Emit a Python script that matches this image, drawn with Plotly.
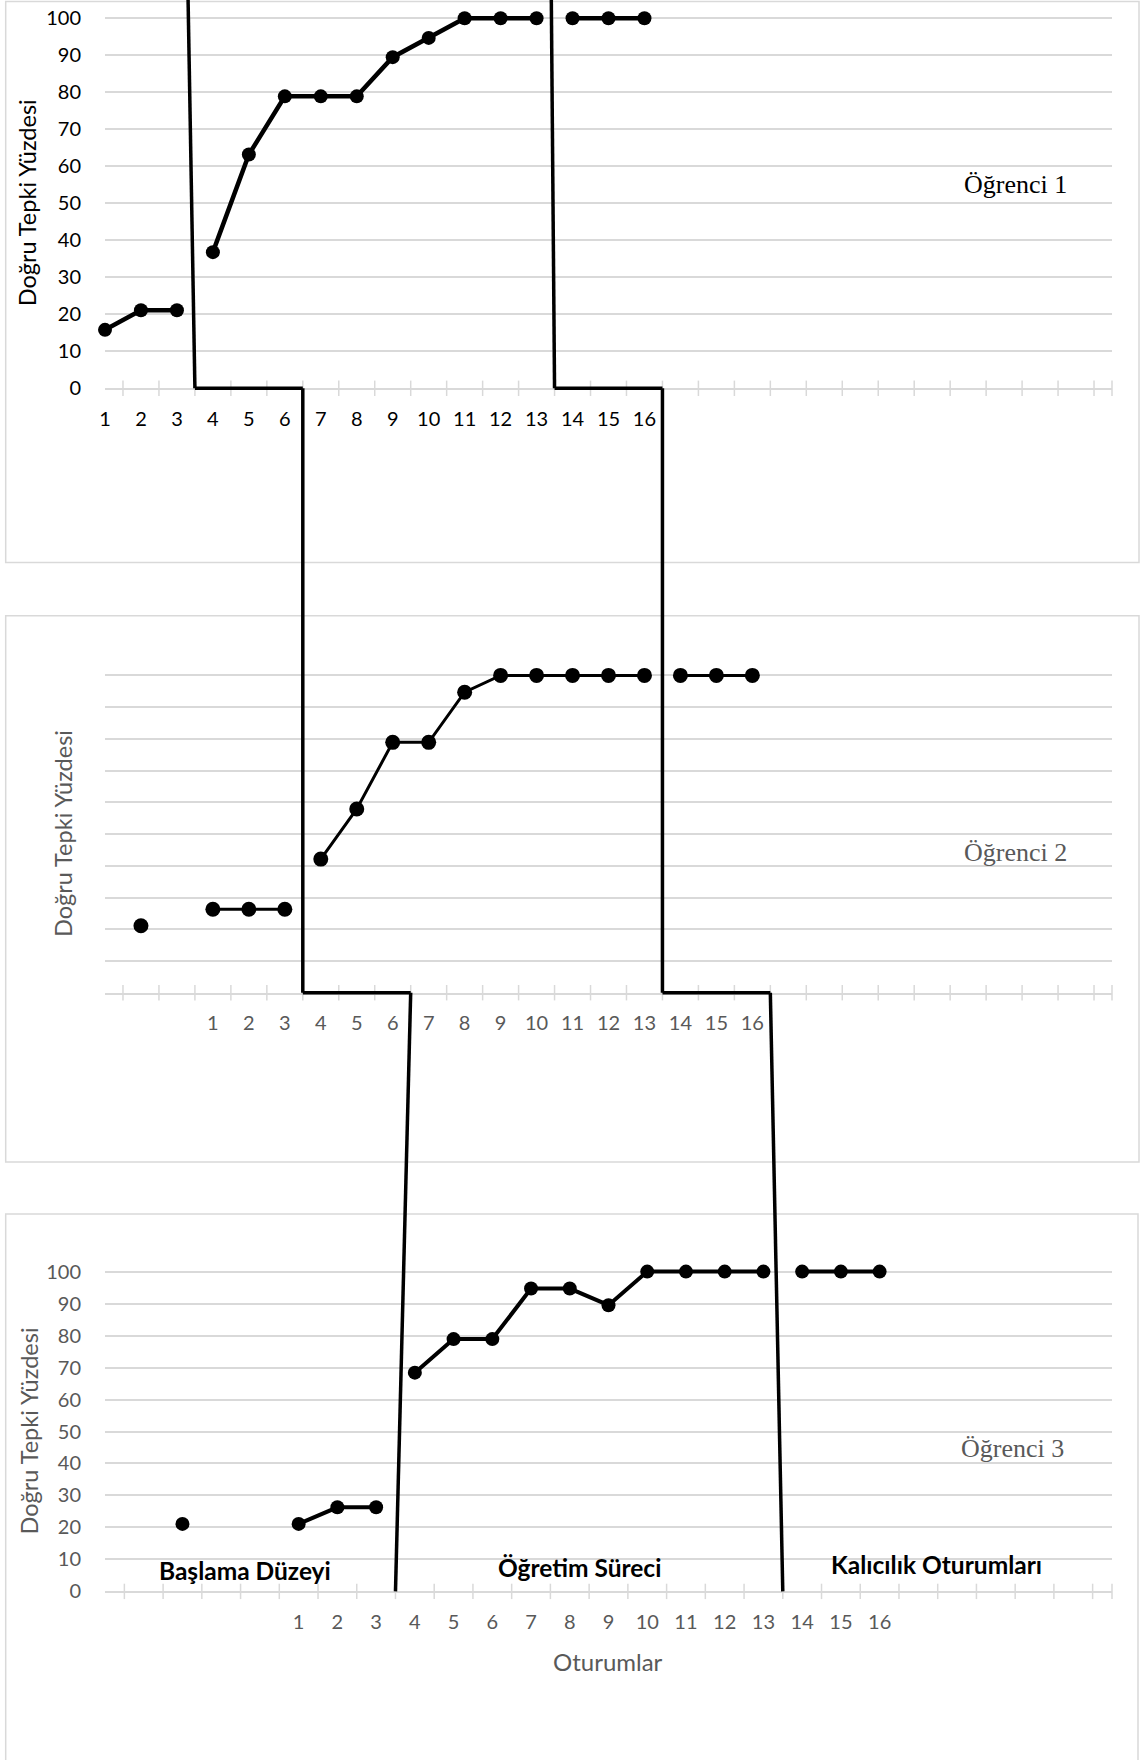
import numpy as np
import plotly.graph_objects as go

# ---------------- data ----------------
x_tick_labels = [str(i) for i in range(1, 17)]
y_ticks = list(range(0, 101, 10))

baseline_sessions = [1, 2, 3]
intervention_sessions = list(range(4, 14))
maintenance_sessions = [14, 15, 16]

# Öğrenci 1
s1_pre_x = []
s1_pre = []
s1_baseline = [15.8, 21.1, 21.1]
s1_intervention = [36.8, 63.2, 78.9, 78.9, 78.9, 89.5, 94.7, 100, 100, 100]
s1_maintenance = [100, 100, 100]

# Öğrenci 2
s2_pre_x = [-1]
s2_pre = [21.1]
s2_baseline = [26.3, 26.3, 26.3]
s2_intervention = [42.1, 57.9, 78.9, 78.9, 94.7, 100, 100, 100, 100, 100]
s2_maintenance = [100, 100, 100]

# Öğrenci 3
s3_pre_x = [-2]
s3_pre = [21.1]
s3_baseline = [21.1, 26.3, 26.3]
s3_intervention = [68.4, 78.9, 78.9, 94.7, 94.7, 89.5, 100, 100, 100, 100]
s3_maintenance = [100, 100, 100]

student_labels = ["Öğrenci 1", "Öğrenci 2", "Öğrenci 3"]
phase_labels = ["Başlama Düzeyi", "Öğretim Süreci", "Kalıcılık Oturumları"]
y_title = "Doğru Tepki Yüzdesi"
x_title = "Oturumlar"

phase_changes = [3.5, 13.5]          # phase-change lines (between sessions)
phase_top_x_panel1 = [3.31, 13.41]   # hand-drawn lines lean slightly at the top
stair_step = 3                       # staircase step (sessions) between panels

# ---------------- styling / layout ----------------
W, H = 1140, 1760
FONT = "Lato"
GRID = "#d9d9d9"
GRAY = "#595959"


def pxx(p):
    return p / W


def pxy(p):
    return 1 - p / H


panels = [
    dict(xr=[1, 29], left=105, right=1112, y0px=388.3, y100px=18.3, top_px=0,
         pre_x=s1_pre_x, pre=s1_pre, base=s1_baseline, inter=s1_intervention,
         maint=s1_maintenance, color="black", show_y=True, lw=4.5, ms=14,
         box=(5.7, 1.5, 1139, 562.5), label_xy=(1015, 185), ytitle_x=27),
    dict(xr=[-2, 26], left=105, right=1112, y0px=992.7, y100px=675.4, top_px=660,
         pre_x=s2_pre_x, pre=s2_pre, base=s2_baseline, inter=s2_intervention,
         maint=s2_maintenance, color=GRAY, show_y=False, lw=3, ms=15,
         box=(5.7, 615.7, 1139, 1162), label_xy=(1015, 853), ytitle_x=63),
    dict(xr=[-4, 22], left=105, right=1112, y0px=1591.4, y100px=1271.6, top_px=1256,
         pre_x=s3_pre_x, pre=s3_pre, base=s3_baseline, inter=s3_intervention,
         maint=s3_maintenance, color=GRAY, show_y=True, lw=4, ms=14,
         box=(5.7, 1214, 1138, 1800), label_xy=(1012, 1448), ytitle_x=28),
]

fig = go.Figure()
layout = dict(
    width=W, height=H, margin=dict(l=0, r=0, t=0, b=0),
    paper_bgcolor="white", plot_bgcolor="white", template="none",
    showlegend=False, hovermode=False,
)
shapes = []
annotations = []

for i, p in enumerate(panels):
    sfx = "" if i == 0 else str(i + 1)
    xa, ya = "x" + sfx, "y" + sfx
    units_per_px = 100.0 / (p["y0px"] - p["y100px"])
    y_top = (p["y0px"] - p["top_px"]) * units_per_px
    p["xdom"] = [pxx(p["left"]), pxx(p["right"])]
    p["ydom"] = [pxy(p["y0px"]), pxy(p["top_px"])]

    layout["xaxis" + sfx] = dict(
        domain=p["xdom"], range=p["xr"], anchor=ya, automargin=False,
        tickmode="array", tickvals=list(range(1, 17)), ticktext=x_tick_labels,
        ticks="", showgrid=False, zeroline=False, showline=True,
        linecolor=GRID, linewidth=1.5,
        tickfont=dict(family=FONT, size=20, color=p["color"]),
        ticklabelstandoff=12,
    )
    layout["yaxis" + sfx] = dict(
        domain=p["ydom"], range=[0, y_top], anchor=xa, automargin=False,
        tickmode="array", tickvals=y_ticks, ticks="",
        showgrid=True, gridcolor=GRID, gridwidth=1.5, zeroline=False,
        showline=False, showticklabels=p["show_y"],
        tickfont=dict(family=FONT, size=20, color=p["color"]),
        ticklabelstandoff=23,
    )

    # category tick marks (between sessions, crossing the axis)
    tpos = list(np.arange(p["xr"][0] + 0.5, p["xr"][1], 1.0)) + [p["xr"][1]]
    fig.add_trace(go.Scatter(
        x=tpos, y=[0] * len(tpos), mode="markers", xaxis=xa, yaxis=ya,
        marker=dict(symbol="line-ns", size=11, line=dict(width=1.5, color=GRID)),
        cliponaxis=False, hoverinfo="skip"))

    # data segments
    segs = [(p["pre_x"], p["pre"]), (baseline_sessions, p["base"]),
            (intervention_sessions, p["inter"]), (maintenance_sessions, p["maint"])]
    for xs, ys in segs:
        if not xs:
            continue
        fig.add_trace(go.Scatter(
            x=xs, y=ys, mode="lines+markers", xaxis=xa, yaxis=ya,
            line=dict(color="black", width=p["lw"]),
            marker=dict(size=p["ms"], color="black"),
            cliponaxis=False, hoverinfo="skip"))

    # chart-area border
    bx0, by0, bx1, by1 = p["box"]
    shapes.append(dict(type="rect", xref="paper", yref="paper",
                       x0=pxx(bx0), x1=pxx(bx1), y0=pxy(by1), y1=pxy(by0),
                       line=dict(color=GRID, width=1.5), layer="below"))

    # student label
    lx, ly = p["label_xy"]
    annotations.append(dict(
        text=student_labels[i], xref="paper", yref="paper", x=pxx(lx), y=pxy(ly),
        xanchor="center", yanchor="middle", showarrow=False,
        font=dict(family="Liberation Serif", size=26, color=p["color"])))

    # y-axis title
    annotations.append(dict(
        text=y_title, xref="paper", yref="paper", x=pxx(p["ytitle_x"]),
        y=pxy((p["y0px"] + p["y100px"]) / 2), textangle=-90,
        xanchor="center", yanchor="middle", showarrow=False,
        font=dict(family=FONT, size=23.5, color=p["color"])))

# x-axis title (bottom panel)
annotations.append(dict(
    text=x_title, xref="paper", yref="paper", x=pxx(608), y=pxy(1661),
    xanchor="center", yanchor="middle", showarrow=False,
    font=dict(family=FONT, size=24, color=GRAY)))

# phase labels in bottom panel (data coordinates of panel 3)
phase_label_pos = [(-0.39, 6.5), (8.24, 7.5), (17.46, 8.3)]
for txt, (lx, ly) in zip(phase_labels, phase_label_pos):
    annotations.append(dict(
        text="<b>" + txt + "</b>", xref="x3", yref="y3", x=lx, y=ly,
        xanchor="center", yanchor="middle", showarrow=False,
        font=dict(family=FONT, size=24.5, color="black")))


def to_paper_x(panel, v):
    d, r = panel["xdom"], panel["xr"]
    return d[0] + (v - r[0]) / (r[1] - r[0]) * (d[1] - d[0])


PL = dict(color="black", width=3.5)
for b, top_x in zip(phase_changes, phase_top_x_panel1):
    # panel 1: lean line from top to axis
    shapes.append(dict(type="line", xref="x", yref="y domain",
                       x0=top_x, y0=1, x1=b, y1=0, line=PL))
    for i, p in enumerate(panels):
        sfx = "" if i == 0 else str(i + 1)
        if i < len(panels) - 1:
            # step along this panel's axis
            shapes.append(dict(type="line", xref="x" + sfx, yref="y" + sfx + " domain",
                               x0=b, y0=0, x1=b + stair_step, y1=0, line=PL))
            nxt = panels[i + 1]
            # connector down to next panel's phase change position
            shapes.append(dict(type="line", xref="paper", yref="paper",
                               x0=to_paper_x(p, b + stair_step), y0=p["ydom"][0],
                               x1=to_paper_x(nxt, b), y1=nxt["ydom"][0], line=PL))

layout["shapes"] = shapes
layout["annotations"] = annotations
fig.update_layout(**layout)
fig.write_html("out.html",
               config={"displayModeBar": False},
               post_script="document.body.style.margin='0px';"
                           "document.body.style.overflow='hidden';")
